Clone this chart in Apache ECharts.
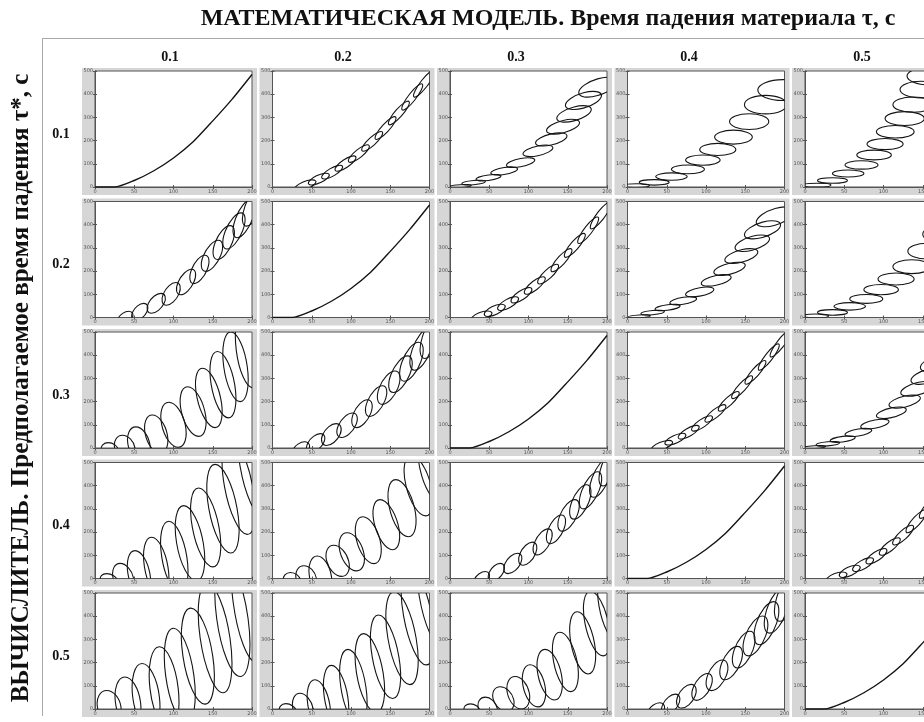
<!DOCTYPE html>
<html><head><meta charset="utf-8">
<script src="https://cdn.jsdelivr.net/npm/echarts@6/dist/echarts.min.js"></script>
<style>html,body{margin:0;padding:0;background:#fff;overflow:hidden}#c{width:990px;height:722px}</style>
</head><body><div id="c"></div>
<script>
// ---------- DATA ----------
const titleText = 'МАТЕМАТИЧЕСКАЯ МОДЕЛЬ. Время падения материала τ, с';
const sideText = 'ВЫЧИСЛИТЕЛЬ. Предполагаемое время падения τ*, с';
const colLabels = ['0.1', '0.2', '0.3', '0.4', '0.5'];
const rowLabels = ['0.1', '0.2', '0.3', '0.4', '0.5'];
const xTicks = [0, 50, 100, 150, 200];
const yTicks = [0, 100, 200, 300, 400, 500];

// matching times: smooth path
const curveX = [0, 25, 50, 75, 100, 125, 150, 175, 200];
const curveY = [0, 0, 28, 70, 125, 195, 285, 380, 485];

// loops: [cx, cy, ux, uy, vx, vy] (data units)
// upper-right panels (model time > assumed time)
const loops_r1c2 = [[42,8,13,18,3,-14],[59,34,13,21,3,-14],[76,64,13,26,3,-14],[93,101,13,30,3,-14],[110,144,13,35,3,-14],[127,197,13,40,3,-14],[144,254,13,47,3,-14],[161,319,13,49,3,-14],[178,388,13,55,3,-14],[193,445,13,56,3,-14]];
const loops_r2c3 = [[40,4,13,18,3,-16],[57,31,13,21,3,-16],[74,60,13,25,3,-16],[91,96,13,29,3,-16],[108,138,13,34,3,-16],[125,187,13,39,3,-16],[142,247,13,47,3,-16],[159,311,13,49,3,-16],[176,376,13,55,3,-16],[192,440,13,56,3,-16]];
const loops_r3c4 = [[44,10,13,18,3,-14],[61,38,13,21,3,-14],[78,68,13,26,3,-14],[95,106,13,30,3,-14],[112,149,13,35,3,-14],[129,201,13,40,3,-14],[146,262,13,47,3,-14],[163,326,13,49,3,-14],[180,392,13,55,3,-14],[195,450,13,56,3,-14]];
const loops_r4c5 = [[40,4,13,18,3,-16],[57,31,13,21,3,-16],[74,60,13,25,3,-16],[91,96,13,29,3,-16],[108,138,13,34,3,-16],[125,187,13,39,3,-16],[142,247,13,47,3,-16],[159,311,13,49,3,-16],[176,376,13,55,3,-16],[192,440,13,56,3,-16]];
const loops_r1c3 = [[13,4,14,3,0,6],[30,19,15,5,0,9],[49,40,16,7,0,12],[69,69,17,9,0,15],[90,105,18,11,0,18],[112,156,19,13,0,21],[129,205,20,15,0,24],[144,260,21,17,0,27],[158,315,22,19,0,30],[170,373,23,21,0,33],[188,430,24,23,0,36]];
const loops_r2c4 = [[15,5,14,3,0,6],[32,21,15,5,0,9],[51,43,16,7,0,12],[71,72,17,9,0,15],[92,110,18,11,0,18],[113,160,19,13,0,21],[130,210,20,15,0,24],[145,265,21,17,0,27],[159,320,22,19,0,30],[172,378,23,21,0,33],[188,434,24,23,0,36]];
const loops_r3c5 = [[12,4,14,3,0,6],[29,18,15,5,0,9],[48,38,16,7,0,12],[68,67,17,9,0,15],[89,103,18,11,0,18],[110,152,19,13,0,21],[127,200,20,15,0,24],[143,255,21,17,0,27],[157,310,22,19,0,30],[170,368,23,21,0,33],[186,426,24,23,0,36]];
const loops_r1c4 = [[12,6,16,0,0,8],[34,20,19,0,0,12],[56,45,20,0,0,16],[77,76,21,0,0,19],[96,116,22,0,0,22],[115,162,23,0,0,26],[135,215,24,0,0,30],[155,282,25,0,0,34],[176,355,27,0,0,40],[198,418,32,0,0,45]];
const loops_r2c5 = [[14,7,16,0,0,8],[35,22,19,0,0,12],[57,48,20,0,0,16],[78,80,21,0,0,19],[97,120,22,0,0,22],[116,166,23,0,0,26],[136,219,24,0,0,30],[156,286,25,0,0,34],[177,359,27,0,0,40],[199,422,32,0,0,45]];
const loops_r1c5 = [[15,8,18,0,0,8],[35,28,19,0,0,12],[55,58,20,0,0,15],[72,95,21,0,0,18],[88,138,22,0,0,21],[102,185,23,0,0,24],[115,238,24,0,0,27],[127,295,25,0,0,30],[138,355,26,0,0,33],[148,420,27,0,0,36],[158,478,28,0,0,38]];
// lower-left panels (assumed time > model time)
const loops_r2c1 = [[38,-5,5,32,9,0],[57,24,5,37,9,0],[78,61,6,43,10,0],[97,102,6,49,10,0],[116,153,7,55,10,0],[133,207,7,61,10,0],[149,266,8,67,11,0],[164,323,8,73,11,0],[177,373,9,78,11,0],[190,427,9,83,11,0],[202,479,9,85,11,0]];
const loops_r3c2 = [[36,-8,5,35,10,0],[55,22,6,40,10,0],[75,58,6,47,11,0],[95,98,7,53,11,0],[114,148,7,60,11,0],[132,202,8,66,11,0],[148,260,8,72,12,0],[163,318,9,79,12,0],[177,372,9,84,12,0],[190,425,9,90,12,0],[203,480,9,94,12,0]];
const loops_r4c3 = [[40,-3,5,33,9,0],[59,27,5,38,9,0],[80,65,6,44,10,0],[99,107,6,50,10,0],[118,158,7,56,10,0],[135,212,7,62,10,0],[151,272,8,68,11,0],[166,330,8,74,11,0],[179,380,9,80,11,0],[192,434,9,84,11,0],[204,485,9,86,11,0]];
const loops_r5c4 = [[36,-10,5,37,10,0],[55,20,6,44,10,0],[75,55,6,51,11,0],[95,95,7,58,11,0],[114,145,7,66,12,0],[132,198,8,72,12,0],[148,256,8,79,12,0],[163,315,9,86,13,0],[177,370,9,93,13,0],[190,425,9,98,13,0],[203,480,9,102,13,0]];
const loops_r3c1 = [[19,-10,-2,33,11,0],[38,0,-3,55,13,0],[56,15,-4,76,14,0],[78,60,-5,82,14,0],[100,100,-6,97,15,0],[125,157,-7,107,15,0],[145,216,-8,128,15,0],[163,273,-7,143,15,0],[179,350,-6,150,15,0],[195,420,-6,160,15,0]];
const loops_r4c2 = [[25,-10,-2,36,11,0],[43,0,-3,55,13,0],[61,10,-4,87,14,0],[83,76,-5,67,14,0],[101,115,-6,82,15,0],[122,165,-7,101,15,0],[145,232,-8,108,15,0],[165,303,-8,123,16,0],[186,400,-9,130,16,0],[204,470,-9,140,16,0]];
const loops_r5c3 = [[28,-5,-2,27,10,0],[48,5,-3,46,12,0],[68,43,-4,53,13,0],[87,70,-4,70,14,0],[107,100,-5,91,14,0],[127,148,-6,109,15,0],[147,203,-7,128,15,0],[169,285,-7,134,15,0],[187,368,-8,139,15,0],[205,440,-8,150,15,0]];
const loops_r4c1 = [[18,-10,-3,31,11,0],[36,3,-4,62,13,0],[56,20,-5,100,14,0],[78,49,-6,129,15,0],[101,93,-7,154,16,0],[121,152,-8,162,17,0],[141,220,-9,170,17,0],[163,301,-10,191,18,0],[183,395,-11,205,18,0],[203,480,-11,215,18,0]];
const loops_r5c2 = [[20,-12,-3,35,11,0],[39,0,-4,68,13,0],[59,18,-5,108,14,0],[81,50,-6,138,15,0],[103,95,-7,162,16,0],[124,155,-8,170,17,0],[144,225,-9,180,17,0],[165,305,-10,200,18,0],[185,400,-11,210,18,0],[205,485,-11,220,18,0]];
const loops_r5c1 = [[18,10,-3,70,15,0],[42,29,-4,109,16,0],[65,53,-5,143,17,0],[88,89,-6,179,18,0],[108,144,-8,204,18,0],[131,228,-9,207,19,0],[153,305,-10,235,19,0],[175,390,-10,250,20,0],[196,460,-10,260,20,0]];

const loopTable = [
  [null, loops_r1c2, loops_r1c3, loops_r1c4, loops_r1c5],
  [loops_r2c1, null, loops_r2c3, loops_r2c4, loops_r2c5],
  [loops_r3c1, loops_r3c2, null, loops_r3c4, loops_r3c5],
  [loops_r4c1, loops_r4c2, loops_r4c3, null, loops_r4c5],
  [loops_r5c1, loops_r5c2, loops_r5c3, loops_r5c4, null]
];

// ---------- LAYOUT ----------
const PLOT_L0 = 95, PLOT_DX = 177.5, PLOT_W = 157;
const PLOT_T0 = 71, PLOT_DY = 130.5, PLOT_H = 116;
const INK = '#141414';

function renderLoop(params, api) {
  const cx = api.value(0), cy = api.value(1);
  const ux = api.value(2), uy = api.value(3), vx = api.value(4), vy = api.value(5);
  const C = api.coord([cx, cy]);
  const pu = api.coord([cx + ux, cy + uy]);
  const pv = api.coord([cx + vx, cy + vy]);
  const U = [pu[0] - C[0], pu[1] - C[1]], V = [pv[0] - C[0], pv[1] - C[1]];
  const k = 0.5523;
  const P = (a, b) => (C[0] + a * U[0] + b * V[0]).toFixed(2) + ' ' + (C[1] + a * U[1] + b * V[1]).toFixed(2);
  const d = 'M ' + P(1, 0) +
    ' C ' + P(1, k) + ' ' + P(k, 1) + ' ' + P(0, 1) +
    ' C ' + P(-k, 1) + ' ' + P(-1, k) + ' ' + P(-1, 0) +
    ' C ' + P(-1, -k) + ' ' + P(-k, -1) + ' ' + P(0, -1) +
    ' C ' + P(k, -1) + ' ' + P(1, -k) + ' ' + P(1, 0) + ' Z';
  const cs = params.coordSys;
  return {
    type: 'path',
    shape: { pathData: d },
    style: { fill: 'none', stroke: INK, lineWidth: 1.1 },
    clipPath: { type: 'rect', shape: { x: cs.x, y: cs.y, width: cs.width, height: cs.height } }
  };
}

const grids = [], xAxes = [], yAxes = [], series = [], graphics = [];
const axisLbl = { fontSize: 5, color: '#555', fontFamily: 'DejaVu Sans' };

for (let r = 0; r < 5; r++) {
  for (let c = 0; c < 5; c++) {
    const g = r * 5 + c;
    const left = PLOT_L0 + c * PLOT_DX, top = PLOT_T0 + r * PLOT_DY;
    grids.push({ left: left, top: top, width: PLOT_W, height: PLOT_H, show: true,
      backgroundColor: '#fff', borderColor: '#555', borderWidth: 1, containLabel: false });
    graphics.push({ type: 'rect', z: -10, shape: { x: left - 13, y: top - 3, width: PLOT_W + 18, height: PLOT_H + 11 },
      style: { fill: '#d6d6d6' }, silent: true });
    const common = { gridIndex: g, type: 'value', splitLine: { show: false },
      axisLine: { show: true, lineStyle: { color: '#555', width: 1 } },
      axisTick: { show: true, inside: true, length: 2, lineStyle: { color: '#555' } } };
    xAxes.push(Object.assign({}, common, { position: 'bottom', min: xTicks[0], max: xTicks[xTicks.length - 1], interval: xTicks[1] - xTicks[0],
      axisLabel: Object.assign({ margin: 2 }, axisLbl) }));
    xAxes.push(Object.assign({}, common, { position: 'top', min: xTicks[0], max: xTicks[xTicks.length - 1], interval: xTicks[1] - xTicks[0],
      axisLabel: { show: false } }));
    yAxes.push(Object.assign({}, common, { position: 'left', min: yTicks[0], max: yTicks[yTicks.length - 1], interval: yTicks[1] - yTicks[0],
      axisLabel: Object.assign({ margin: 2 }, axisLbl) }));
    yAxes.push(Object.assign({}, common, { position: 'right', min: yTicks[0], max: yTicks[yTicks.length - 1], interval: yTicks[1] - yTicks[0],
      axisLabel: { show: false } }));
    if (r === c) {
      series.push({ type: 'line', xAxisIndex: 2 * g, yAxisIndex: 2 * g, smooth: 0.25, symbol: 'none',
        lineStyle: { color: INK, width: 1.4 }, data: curveX.map((x, i) => [x, curveY[i]]), clip: true });
    } else {
      series.push({ type: 'custom', xAxisIndex: 2 * g, yAxisIndex: 2 * g, renderItem: renderLoop,
        encode: { x: 0, y: 1 }, data: loopTable[r][c] });
    }
  }
}

const serif = '"Liberation Serif", "DejaVu Serif", serif';
graphics.push({ type: 'line', shape: { x1: 42, y1: 38.5, x2: 990, y2: 38.5 }, style: { stroke: '#aaa', lineWidth: 1 } });
graphics.push({ type: 'line', shape: { x1: 42.5, y1: 38, x2: 42.5, y2: 716 }, style: { stroke: '#aaa', lineWidth: 1 } });
graphics.push({ type: 'text', x: 548, y: 19, style: { text: titleText, font: 'bold 24px ' + serif, fill: '#111', textAlign: 'center', textVerticalAlign: 'middle' } });
graphics.push({ type: 'text', x: 22, y: 388, rotation: Math.PI / 2, style: { text: sideText, font: 'bold 25px ' + serif, fill: '#111', textAlign: 'center', textVerticalAlign: 'middle' } });
colLabels.forEach((t, i) => graphics.push({ type: 'text', x: 170 + 173 * i, y: 57, style: { text: t, font: 'bold 14px ' + serif, fill: '#111', textAlign: 'center', textVerticalAlign: 'middle' } }));
rowLabels.forEach((t, i) => graphics.push({ type: 'text', x: 61, y: PLOT_T0 + PLOT_H / 2 + 5 + i * PLOT_DY, style: { text: t, font: 'bold 14px ' + serif, fill: '#111', textAlign: 'center', textVerticalAlign: 'middle' } }));

const chart = echarts.init(document.getElementById('c'), null, { renderer: 'canvas' });
chart.setOption({
  animation: false,
  backgroundColor: '#fff',
  grid: grids, xAxis: xAxes, yAxis: yAxes, series: series,
  graphic: { elements: graphics }
});
</script></body></html>
